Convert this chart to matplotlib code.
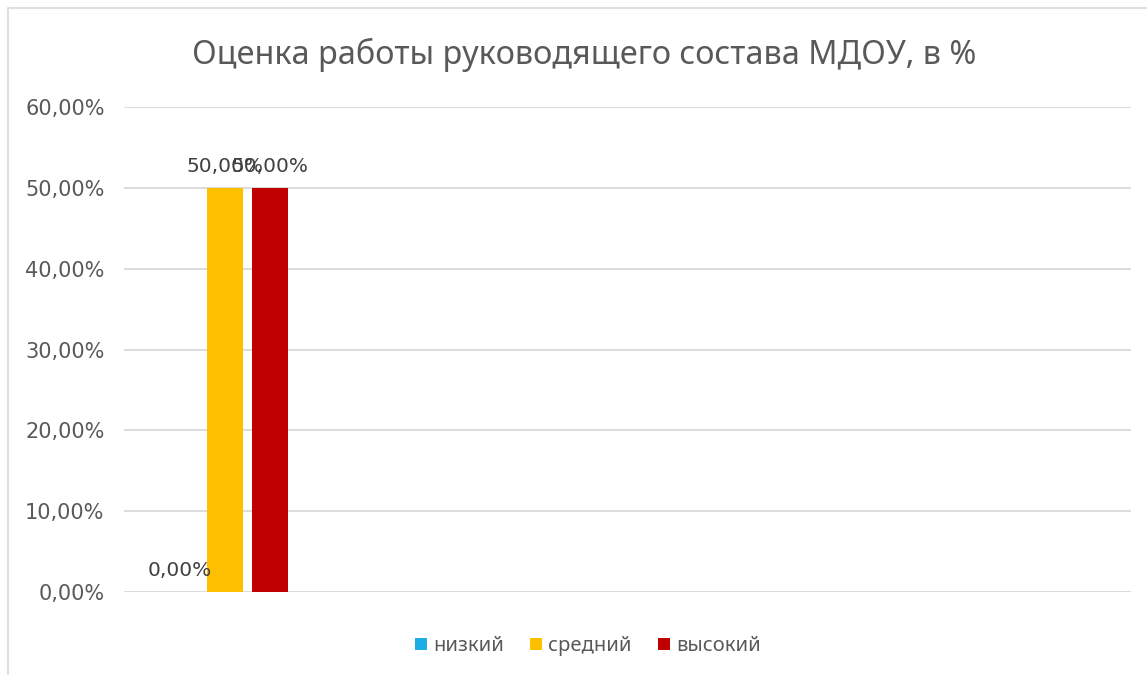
import numpy as np
import matplotlib.pyplot as plt
from matplotlib.patches import Rectangle
from matplotlib.ticker import FuncFormatter

categories = ["", "", "", "", ""]
series_names = ["низкий", "средний", "высокий"]
series_values = [
    [0.0, None, None, None, None],
    [0.5, None, None, None, None],
    [0.5, None, None, None, None],
]
colors = ["#1CADE4", "#FFC000", "#C00000"]
title = "Оценка работы руководящего состава МДОУ, в %"


def pct(v, pos=None):
    return ("%.2f%%" % (v * 100)).replace(".", ",")


W, H = 1147, 675
fig = plt.figure(figsize=(W / 100, H / 100), dpi=100)
ax = fig.add_axes([124 / W, 83 / H, (1131 - 124) / W, (592 - 107) / H])

# chart area border (cropped at right/bottom)
fig.patches.append(Rectangle((8 / W, -0.1), 1.2, (667 + 0.1 * H) / H,
                             transform=fig.transFigure, fill=False,
                             edgecolor="#D9D9D9", linewidth=1.2))

x = np.arange(len(categories))
width = 0.179
step = 0.224
for i, (name, vals, col) in enumerate(zip(series_names, series_values, colors)):
    xs = [xi + (i - 1) * step for xi, v in zip(x, vals) if v is not None]
    ys = [v for v in vals if v is not None]
    bars = ax.bar(xs, ys, width=width, color=col, label=name, zorder=3)
    for b, v in zip(bars, ys):
        ax.text(b.get_x() + b.get_width() / 2, v + 0.015, pct(v),
                ha="center", va="bottom", fontsize=14.5, color="#404040",
                zorder=4)

ax.set_xlim(-0.5, len(categories) - 0.5)
ax.set_ylim(0, 0.6)
ax.set_yticks(np.arange(0, 0.61, 0.1))
ax.yaxis.set_major_formatter(FuncFormatter(pct))
ax.set_xticks([])
ax.grid(axis="y", color="#D9D9D9", linewidth=1.3, zorder=0)
for s in ax.spines.values():
    s.set_visible(False)
ax.tick_params(axis="y", length=0, pad=14, labelsize=15, labelcolor="#595959")

fig.text(584 / W, 1 - 55 / H, title, ha="center", va="center",
         fontsize=23.3, color="#595959", family="Noto Sans")

leg = fig.legend(loc="center", bbox_to_anchor=(588 / W, 1 - 646 / H),
                 ncol=3, frameon=False, handlelength=0.6, handleheight=0.6,
                 handletextpad=0.3, columnspacing=1.3,
                 prop={"family": "Noto Sans", "size": 14.5})
for t in leg.get_texts():
    t.set_color("#595959")

fig.savefig("out.png", dpi=100, facecolor="white")
